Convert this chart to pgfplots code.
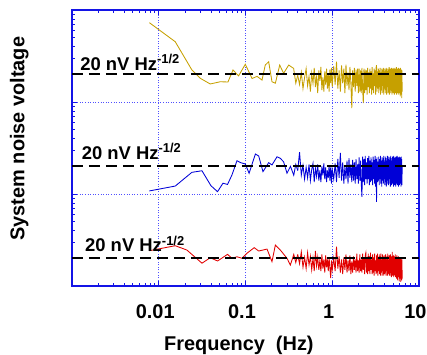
\documentclass[border=0pt]{standalone}
\usepackage{pgfplots}
\usepackage{pgfplotstable}
\pgfplotsset{compat=1.18}
\usepackage{fontspec}
\setmainfont{Liberation Sans}
\definecolor{gold}{RGB}{198,160,0}
\definecolor{bl}{RGB}{0,0,215}
\definecolor{rd}{RGB}{225,0,0}
\definecolor{ax}{RGB}{20,20,230}
\definecolor{gr}{RGB}{80,80,255}

\pgfplotstableread{
f v
0.0078 7.28
0.0155 4.52
0.0241 2.23
0.0301 1.81
0.0392 1.57
0.0512 1.66
0.0628 1.65
0.0718 2.23
0.0832 1.92
0.0995 2.57
0.119 1.80
0.136 1.90
0.155 1.73
0.169 2.52
0.185 2.74
0.202 1.66
0.221 1.60
0.248 2.52
0.275 2.05
0.315 2.52
0.359 2.32
0.38 1.60
0.40 1.95
}\goldearly

\pgfplotstableread{
f v
0.0078 1.08
0.0155 1.22
0.0241 1.72
0.0315 1.79
0.040 1.23
0.0476 1.06
0.055 1.31
0.0621 1.27
0.0698 1.61
0.0798 2.30
0.088 2.19
0.0995 2.12
0.110 1.68
0.130 2.72
0.142 2.59
0.159 1.75
0.185 2.19
0.202 2.07
0.231 2.54
0.252 2.44
0.275 2.24
0.301 1.68
0.33 2.00
0.36 1.60
0.38 2.10
0.40 1.80
}\blueearly

\pgfplotstableread{
f v
0.0078 2.42
0.0155 2.74
0.0211 2.46
0.0315 1.77
0.0393 2.03
0.0476 1.87
0.0621 2.21
0.0698 2.00
0.0798 2.08
0.0912 2.00
0.104 2.27
0.126 2.61
0.142 2.40
0.177 2.52
0.202 1.84
0.221 2.79
0.252 2.46
0.301 2.00
0.329 1.69
0.36 2.20
0.38 1.80
0.40 2.20
}\redearly

\pgfplotstableread{
f g b r
0.40 1.95 1.80 2.20
0.42 1.55 2.85 1.75
0.44 2.10 1.60 2.35
0.46 1.40 2.05 1.60
0.48 1.85 1.45 2.05
0.50 2.30 1.95 1.55
0.52 1.50 1.50 2.30
0.54 1.90 2.10 1.70
0.56 1.30 1.40 2.10
0.58 2.05 1.85 1.50
0.60 1.60 2.15 2.00
0.62 2.35 1.35 1.45
0.64 1.45 1.90 2.40
0.66 1.95 1.55 1.65
0.68 1.25 2.10 2.05
0.70 2.20 1.40 1.50
0.72 1.70 1.80 1.90
0.74 2.40 1.35 1.45
0.76 1.35 2.00 2.20
0.78 1.85 1.60 1.55
0.80 1.30 2.15 1.95
0.82 2.15 1.45 1.40
0.84 1.55 1.95 2.15
0.86 2.30 1.35 1.60
0.88 1.40 1.80 1.95
0.90 2.00 1.50 1.45
0.92 1.30 2.05 2.05
0.94 2.25 1.40 1.55
0.96 1.60 1.95 1.22
0.98 2.35 1.30 1.90
1.00 1.45 1.85 1.50
1.04 2.45 1.45 2.00
1.08 1.55 2.15 1.45
1.12 2.74 1.35 2.67
1.16 1.40 2.40 1.55
1.20 2.20 1.50 2.10
1.24 1.30 2.79 1.40
1.28 2.50 1.40 1.95
1.32 1.60 2.20 1.35
1.36 2.30 1.30 2.05
1.40 1.25 2.00 1.50
1.44 2.55 1.45 2.20
1.48 1.50 2.30 1.40
1.52 2.10 1.30 1.90
1.56 1.35 2.45 1.45
1.60 2.40 1.50 2.15
1.64 1.60 2.10 1.35
1.68 0.86 1.35 1.85
1.72 2.20 2.35 1.40
1.76 1.45 1.40 2.10
1.80 2.35 2.20 1.50
1.84 1.30 1.30 1.95
1.88 2.25 2.40 1.40
1.92 1.50 1.45 2.25
1.96 2.30 2.10 1.45
2.00 1.25 1.30 1.90
2.04 2.30 2.50 1.40
2.08 1.30 1.40 2.20
2.12 2.20 2.30 1.45
2.16 1.25 1.30 1.95
2.20 2.35 0.93 1.40
2.24 1.40 2.55 2.25
2.28 0.97 1.35 1.50
2.32 2.30 2.40 2.05
2.36 1.25 1.25 1.35
2.40 2.25 2.60 2.15
2.44 1.35 1.45 2.30
2.48 2.20 2.20 1.40
2.52 1.20 1.30 2.00
2.56 2.35 2.45 1.35
2.60 1.45 1.45 2.25
2.64 2.10 2.60 1.45
2.68 1.25 1.25 2.10
2.72 2.30 2.30 1.35
2.76 1.40 1.35 2.30
2.80 2.15 2.50 1.50
2.84 1.20 1.40 1.95
2.88 2.40 2.20 1.35
2.92 1.35 1.25 2.20
2.96 2.05 2.55 1.40
3.00 1.25 1.45 2.05
3.04 2.30 2.35 1.30
3.08 1.50 1.30 2.25
3.12 2.20 2.60 1.45
3.16 1.20 1.20 1.90
3.20 2.35 2.40 1.35
3.24 2.52 0.82 2.15
3.28 1.30 2.50 1.40
3.32 2.15 1.35 2.25
3.36 1.40 2.25 1.30
3.40 2.30 1.40 2.00
3.44 1.25 2.55 1.45
3.48 2.20 1.25 2.20
3.52 1.45 2.40 1.35
3.56 2.35 1.45 2.10
3.60 1.20 2.60 1.30
3.64 2.10 1.30 2.25
3.68 1.35 2.30 1.40
3.72 2.30 1.20 1.95
3.76 1.25 2.50 1.30
3.80 2.25 1.40 2.20
3.84 1.50 2.35 1.45
3.88 2.35 1.30 2.00
3.92 1.20 2.60 1.30
3.96 2.15 1.45 2.15
4.00 1.40 2.25 1.35
4.04 2.30 1.25 2.05
4.08 1.25 2.55 1.40
4.12 2.20 1.35 2.20
4.16 1.35 2.45 1.30
4.20 2.35 1.20 1.95
4.24 1.20 2.30 1.45
4.28 2.10 1.40 2.10
4.32 1.45 2.60 1.30
4.36 2.30 1.30 2.25
4.40 1.25 2.40 1.35
4.44 2.25 1.25 1.90
4.48 1.35 2.55 1.40
4.52 2.40 1.45 2.15
4.56 1.20 2.35 1.30
4.60 2.15 1.30 2.00
4.64 1.40 2.50 1.40
4.68 2.30 1.20 2.20
4.72 1.25 2.60 1.30
4.76 2.20 1.40 1.95
4.80 1.50 2.30 1.25
4.84 2.35 1.25 2.10
4.88 1.20 2.45 1.40
4.92 2.10 1.35 2.35
4.96 1.35 2.55 1.30
5.00 2.30 1.30 2.00
5.04 1.25 2.40 1.35
5.08 2.25 1.20 2.15
5.12 1.45 2.60 1.25
5.16 2.35 1.40 1.95
5.20 1.20 2.35 1.40
5.24 2.15 1.25 2.10
5.28 1.40 2.50 1.30
5.32 2.30 1.35 2.20
5.36 1.25 2.45 1.25
5.40 2.20 1.20 1.90
5.44 1.35 2.55 1.35
5.48 2.40 1.40 2.05
5.52 1.20 2.30 1.20
5.56 2.10 1.30 2.15
5.60 1.45 2.60 1.30
5.64 2.30 1.25 1.95
5.68 1.25 2.40 1.15
5.72 2.20 1.45 2.05
5.76 1.35 2.50 1.30
5.80 2.35 1.20 2.10
5.84 1.20 2.35 1.25
5.88 2.15 1.35 1.90
5.92 1.40 2.55 1.12
5.96 2.30 1.25 2.00
6.00 1.25 2.40 1.30
6.04 2.20 1.30 2.05
6.08 1.15 2.50 1.20
6.12 2.35 1.40 1.95
6.16 1.30 2.30 1.11
6.20 2.10 1.20 2.00
6.24 1.20 2.55 1.25
6.28 2.25 1.35 1.90
6.32 1.10 2.40 1.15
6.36 2.20 1.25 1.95
6.40 1.30 2.05 1.20
}\noise

\begin{document}
\begin{tikzpicture}
\begin{axis}[
  width=347bp, height=276bp, scale only axis,
  xmode=log, ymode=log,
  xmin=0.001, xmax=10, ymin=1, ymax=1000,
  xtick={0.001,0.01,0.1,1,10}, xticklabels={,0.01,0.1,1,10},
  ytick={1,10,100,1000}, yticklabels={},
  grid=major,
  major grid style={gr, line width=0.9bp, dash pattern=on 1bp off 1.6bp},
  axis line style={ax, line width=1.1bp},
  tick style={ax, line width=0.7bp},
  major tick length=5bp, minor tick length=3bp,
  tick align=inside,
  xticklabel style={font=\fontsize{20}{22}\selectfont\bfseries, anchor=base, yshift=-32bp, xshift=-3.5bp},
  xlabel={Frequency~~(Hz)},
  xlabel style={font=\fontsize{20}{22}\selectfont\bfseries, at={(axis description cs:0.481,0)}, anchor=base, yshift=-64bp},
  ylabel={System noise voltage},
  ylabel style={font=\fontsize{20}{22}\selectfont\bfseries, at={(axis description cs:-0.1369,0.534)}, anchor=base, rotate=0},
]
\addplot[gold, line width=0.85bp] table[x=f, y expr=100*\thisrow{v}] {\goldearly};
\addplot[gold, line width=0.85bp] table[x=f, y expr=100*\thisrow{g}] {\noise};
\addplot[bl, line width=0.85bp] table[x=f, y expr=10*\thisrow{v}] {\blueearly};
\addplot[bl, line width=0.85bp] table[x=f, y expr=10*\thisrow{b}] {\noise};
\addplot[rd, line width=0.85bp] table[x=f, y=v] {\redearly};
\addplot[rd, line width=0.85bp] table[x=f, y=r] {\noise};
\addplot[black, line width=2.3bp, dash pattern=on 11bp off 6bp] coordinates {(0.001,200) (10,200)};
\addplot[black, line width=2.3bp, dash pattern=on 11bp off 6bp] coordinates {(0.001,20) (10,20)};
\addplot[black, line width=2.3bp, dash pattern=on 11bp off 6bp] coordinates {(0.001,2) (10,2)};
\node[anchor=west, inner sep=0pt, font=\fontsize{18.5}{20}\selectfont\bfseries] at (axis cs:0.00124,269) {20 nV Hz\textsuperscript{-1/2}};
\node[anchor=west, inner sep=0pt, font=\fontsize{18.5}{20}\selectfont\bfseries] at (axis cs:0.00129,29.0) {20 nV Hz\textsuperscript{-1/2}};
\node[anchor=west, inner sep=0pt, font=\fontsize{18.5}{20}\selectfont\bfseries] at (axis cs:0.00141,2.86) {20 nV Hz\textsuperscript{-1/2}};
\coordinate (bl) at (rel axis cs:0,0);
\coordinate (tr) at (rel axis cs:1,1);
\end{axis}
\pgfresetboundingbox
\path[use as bounding box] ([xshift=-72bp,yshift=-69bp]bl) rectangle ([xshift=8bp,yshift=10bp]tr);
\end{tikzpicture}
\end{document}
